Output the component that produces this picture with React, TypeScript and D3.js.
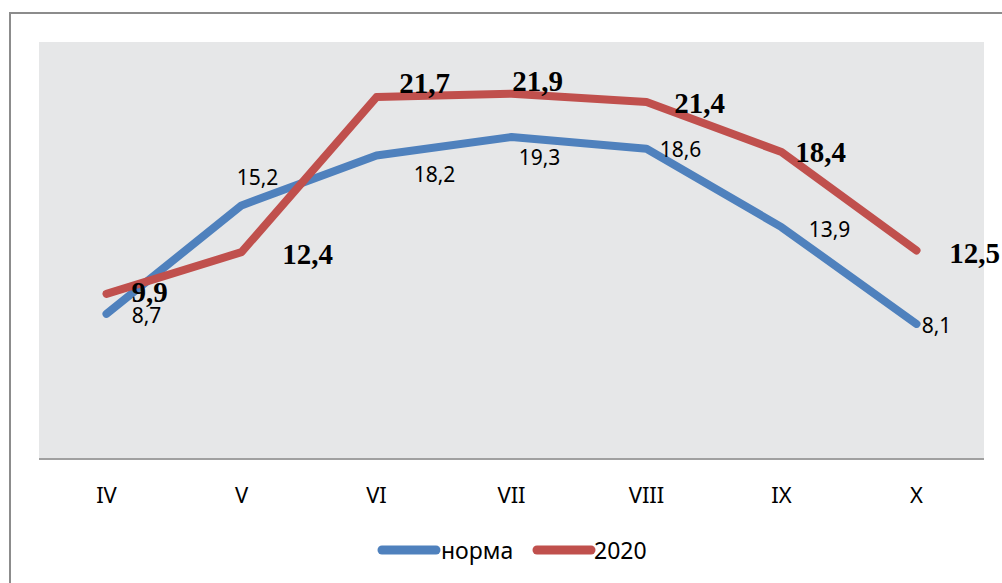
import * as d3 from "d3";

const months = ["IV", "V", "VI", "VII", "VIII", "IX", "X"];
const normValues = [8.7, 15.2, 18.2, 19.3, 18.6, 13.9, 8.1];
const values2020 = [9.9, 12.4, 21.7, 21.9, 21.4, 18.4, 12.5];
const seriesNames = ["норма", "2020"];

// label nudges (px) relative to each point
const normOffsets = [[40, 1], [16, -28], [58, 19], [28, 20], [34, 0], [48, 2], [20, 1]];
const offsets2020 = [[43, -2], [66, 2], [48, -14], [26, -13], [53, 1], [39, 0], [58, 2]];

const W = 1002;
const H = 583;
const plot = { left: 39, right: 984, top: 42, bottom: 459 };
const blue = "#4F81BD";
const red = "#C0504D";
const sans = "'Noto Sans', sans-serif";
const serif = "'Liberation Serif', 'Times New Roman', serif";

export default function App() {
  const x = d3.scaleBand().domain(months).range([plot.left, plot.right]).padding(0);
  const cx = (m: string) => (x(m) ?? 0) + x.bandwidth() / 2;
  const y = d3.scaleLinear().domain([0, 25]).range([plot.bottom, plot.top]);

  const line = d3
    .line<number>()
    .x((_, i) => cx(months[i]))
    .y((d) => y(d));

  const fmt = (v: number) => v.toFixed(1).replace(".", ",");

  return (
    <svg
      width={W}
      height={H}
      style={{ position: "absolute", left: 0, top: 0, display: "block", background: "#fff" }}
    >
      <rect x={10} y={13} width={W + 20} height={H + 20} fill="#fff" stroke="#8c8c8c" strokeWidth={2} />
      <rect
        x={plot.left}
        y={plot.top}
        width={plot.right - plot.left}
        height={plot.bottom - plot.top}
        fill="#E6E7E8"
      />
      <line x1={plot.left} x2={plot.right} y1={plot.bottom} y2={plot.bottom} stroke="#a0a0a0" strokeWidth={2} />

      {months.map((m) => (
        <text key={m} x={cx(m)} y={494} textAnchor="middle" dominantBaseline="central" fontFamily={sans} fontSize={22} fill="#000">
          {m}
        </text>
      ))}

      <path d={line(normValues) ?? ""} fill="none" stroke={blue} strokeWidth={8} strokeLinejoin="round" strokeLinecap="round" />
      <path d={line(values2020) ?? ""} fill="none" stroke={red} strokeWidth={8} strokeLinejoin="round" strokeLinecap="round" />

      {normValues.map((v, i) => (
        <text
          key={"n" + i}
          x={cx(months[i]) + normOffsets[i][0]}
          y={y(v) + normOffsets[i][1]}
          textAnchor="middle"
          dominantBaseline="central"
          fontFamily={sans}
          fontSize={21}
          fill="#000"
        >
          {fmt(v)}
        </text>
      ))}
      {values2020.map((v, i) => (
        <text
          key={"r" + i}
          x={cx(months[i]) + offsets2020[i][0]}
          y={y(v) + offsets2020[i][1]}
          textAnchor="middle"
          dominantBaseline="central"
          fontFamily={serif}
          fontWeight="bold"
          fontSize={29}
          fill="#000"
        >
          {fmt(v)}
        </text>
      ))}

      <g fontFamily={sans} fontSize={23} fill="#000">
        <line x1={382} x2={436} y1={550} y2={550} stroke={blue} strokeWidth={9} strokeLinecap="round" />
        <text x={441} y={550} dominantBaseline="central">{seriesNames[0]}</text>
        <line x1={537} x2={591} y1={550} y2={550} stroke={red} strokeWidth={9} strokeLinecap="round" />
        <text x={594} y={550} dominantBaseline="central">{seriesNames[1]}</text>
      </g>
    </svg>
  );
}
